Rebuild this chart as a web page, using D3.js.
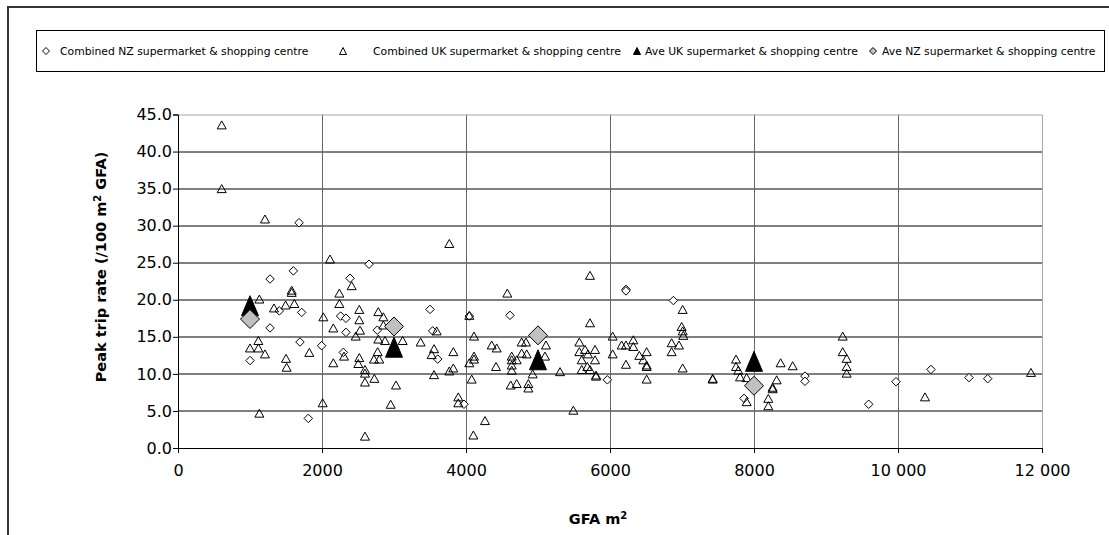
<!DOCTYPE html>
<html>
<head>
<meta charset="utf-8">
<script src="https://cdn.jsdelivr.net/npm/d3@7"></script>
<style>
  body { margin: 0; background: #fff; }
  svg { display: block; }
</style>
</head>
<body>
<div id="chart"></div>
<script>
// data (GFA m2, peak trip rate)
const nzPoints = [
  [1278,22.8],[1602,23.9],[1681,30.4],[2653,24.8],[1407,18.5],[1718,18.3],[1278,16.2],[1000,11.8],
  [1694,14.3],[1810,4.0],[1995,13.8],[2389,22.9],[2259,17.8],[2333,17.5],[2333,15.6],[2296,12.9],
  [2768,15.9],[3500,18.7],[3537,15.8],[3607,12.0],[3972,5.9],[4046,17.8],[4611,17.9],[6222,21.4],
  [6222,21.2],[6880,19.9],[5963,9.2],[7861,6.7],[8708,9.7],[8708,9.0],[9593,5.9],[9972,8.95],
  [10458,10.6],[10986,9.5],[11246,9.35]
];
const ukPoints = [
  [607,43.6],[607,35.0],[1208,30.9],[3768,27.6],[2111,25.5],
  [1579,21.3],[1579,21.0],[1130,20.1],[1333,18.9],[1495,19.3],[1616,19.5],[1116,14.5],[1000,13.5],
  [1116,13.5],[1208,12.7],[1500,12.1],[1509,10.9],[1824,12.9],[1130,4.7],
  [2019,17.7],[2009,6.1],[2241,20.9],[2241,19.5],[2412,21.9],[2157,16.2],[2468,15.1],[2518,18.7],
  [2518,17.3],[2528,15.9],[2306,12.4],[2157,11.5],[2518,12.2],[2504,11.4],[2597,10.6],[2597,10.1],
  [2597,8.9],[2727,9.4],[2597,1.6],
  [2782,18.4],[2852,17.7],[2852,16.6],[2782,14.7],[2875,14.5],[3120,14.5],[2773,13.0],[2722,12.0],
  [2796,12.0],[3028,8.5],[2954,5.9],
  [3370,14.3],[3593,15.8],[3556,13.4],[3523,12.6],[3824,13.0],[3556,9.9],[3768,10.4],[3824,10.8],
  [3893,6.9],[3893,6.1],
  [4046,17.9],[4111,15.1],[4046,11.5],[4111,12.4],[4111,12.0],[4079,9.3],[4102,1.75],[4264,3.7],
  [4357,13.9],[4426,13.5],[4417,11.0],
  [4574,20.9],[5722,23.3],[5722,16.9],[7009,18.7],[6995,16.4],[7009,15.8],[7018,15.2],[6856,14.2],
  [6958,13.9],[6856,13.0],[7009,10.8],
  [4635,12.4],[4635,11.9],[4635,11.2],[4635,10.5],[4621,8.5],[4704,8.7],[4866,8.7],[4866,8.1],[4926,10.0],
  [4773,14.3],[4833,14.3],[4773,12.8],[4843,12.7],[4704,11.9],
  [5111,13.9],[5097,12.4],[5306,10.3],[5491,5.1],
  [5574,14.3],[5574,13.0],[5607,11.9],[5607,10.6],[5653,13.3],[5694,12.7],[5792,13.3],[5792,11.9],
  [5685,11.0],[5722,10.6],[5806,9.85],[5806,9.7],
  [6037,15.1],[6037,12.7],[6162,13.9],[6222,13.9],[6324,14.6],[6324,13.7],[6222,11.3],
  [6407,12.5],[6509,13.0],[6463,11.9],[6509,11.2],[6509,11.0],[6509,9.3],
  [7426,9.4],[7426,9.3],
  [7750,12.0],[7750,11.0],[7782,10.5],[7806,9.6],[7898,9.5],[7898,6.25],[8199,6.7],[8199,5.7],
  [8259,8.2],[8259,8.0],[8315,9.2],[8370,11.5],[8537,11.1],
  [9232,15.1],[9232,13.0],[9287,12.1],[9287,11.0],[9287,10.1],[10375,6.9],[11847,10.2]
];
const aveUK = [[1000,19.2],[3000,13.6],[5000,11.9],[8000,11.7]];
const aveNZ = [[1000,17.4],[3000,16.4],[5000,15.2],[8000,8.4]];

const xTicks = [0,2000,4000,6000,8000,10000,12000];
const yTicks = [0,5,10,15,20,25,30,35,40,45];
const legendLabels = [
  'Combined NZ supermarket & shopping centre',
  'Combined UK supermarket & shopping centre',
  'Ave UK supermarket & shopping centre',
  'Ave NZ supermarket & shopping centre'
];

// layout
const W = 1109, H = 535;
const margin = {top: 114.5, right: 67, bottom: 87, left: 178};
const width = W - margin.left - margin.right;
const height = H - margin.top - margin.bottom;
const font = '"DejaVu Sans", Verdana, sans-serif';

const svg = d3.select('#chart').append('svg')
  .attr('width', W)
  .attr('height', H);

// outer chart frame (runs off the picture to the right and bottom)
svg.append('rect')
  .attr('x', 8).attr('y', 7)
  .attr('width', W + 20).attr('height', H + 20)
  .attr('fill', 'none').attr('stroke', '#333').attr('stroke-width', 2);

const g = svg.append('g')
  .attr('transform', 'translate(' + margin.left + ',' + margin.top + ')');

const x = d3.scaleLinear().domain([0, 12000]).range([0, width]);
const y = d3.scaleLinear().domain([0, 45]).range([height, 0]);

// marker paths
function tri(w, h) {
  return 'M0,' + (-h / 2) + 'L' + (w / 2) + ',' + (h / 2) + 'L' + (-w / 2) + ',' + (h / 2) + 'Z';
}
function dia(w, h) {
  return 'M0,' + (-h / 2) + 'L' + (w / 2) + ',0L0,' + (h / 2) + 'L' + (-w / 2) + ',0Z';
}

// gridlines
g.append('g').selectAll('line')
  .data(yTicks.filter(d => d > 0 && d < 45))
  .join('line')
  .attr('x1', 0).attr('x2', width)
  .attr('y1', d => Math.round(y(d)) + 0.5).attr('y2', d => Math.round(y(d)) + 0.5)
  .attr('stroke', '#000');

g.append('g').selectAll('line')
  .data(xTicks.filter(d => d > 0 && d < 12000))
  .join('line')
  .attr('x1', d => Math.round(x(d)) + 0.5).attr('x2', d => Math.round(x(d)) + 0.5)
  .attr('y1', 0).attr('y2', height)
  .attr('stroke', '#666');

// plot border top / right
g.append('path')
  .attr('d', 'M0,' + (Math.round(y(45)) + 0.5) + 'H' + (Math.round(width) + 0.5) + 'V' + height)
  .attr('fill', 'none').attr('stroke', '#a8a8a8');

// axes
const xAxis = d3.axisBottom(x).tickValues(xTicks).tickSize(5).tickPadding(12)
  .tickFormat(d => d >= 10000 ? d3.format(',')(d).replace(',', ' ') : d);
const yAxis = d3.axisLeft(y).tickValues(yTicks).tickSize(5).tickPadding(1)
  .tickFormat(d3.format('.1f'));

const xAxisGroup = g.append('g')
  .attr('class', 'x-axis')
  .attr('transform', 'translate(0,' + height + ')')
  .call(xAxis);
const yAxisGroup = g.append('g')
  .attr('class', 'y-axis')
  .call(yAxis);

[xAxisGroup, yAxisGroup].forEach(a => {
  a.select('.domain').attr('stroke', '#000');
  a.selectAll('.tick line').attr('stroke', '#000');
  a.selectAll('text')
    .attr('font-family', font)
    .attr('font-size', 16)
    .attr('fill', '#000');
});

// points
g.append('g').selectAll('path')
  .data(nzPoints)
  .join('path')
  .attr('transform', d => 'translate(' + x(d[0]) + ',' + y(d[1]) + ')')
  .attr('d', dia(8.5, 8.5))
  .attr('fill', '#fff').attr('stroke', '#000').attr('stroke-width', 1);

g.append('g').selectAll('path')
  .data(ukPoints)
  .join('path')
  .attr('transform', d => 'translate(' + x(d[0]) + ',' + y(d[1]) + ')')
  .attr('d', tri(9, 8))
  .attr('fill', 'none').attr('stroke', '#000').attr('stroke-width', 1);

g.append('g').selectAll('path')
  .data(aveUK)
  .join('path')
  .attr('transform', d => 'translate(' + x(d[0]) + ',' + y(d[1]) + ')')
  .attr('d', tri(17, 20))
  .attr('fill', '#000').attr('stroke', '#000');

g.append('g').selectAll('path')
  .data(aveNZ)
  .join('path')
  .attr('transform', d => 'translate(' + x(d[0]) + ',' + y(d[1]) + ')')
  .attr('d', dia(19, 19))
  .attr('fill', '#c0c0c0').attr('stroke', '#000');

// axis titles
const yTitle = svg.append('text')
  .attr('transform', 'translate(106,267) rotate(-90)')
  .attr('text-anchor', 'middle')
  .attr('font-family', font)
  .attr('font-weight', 'bold')
  .attr('font-size', 14.5);
yTitle.append('tspan').text('Peak trip rate (/100 m');
yTitle.append('tspan').attr('baseline-shift', 'super').attr('font-size', 10).text('2');
yTitle.append('tspan').text(' GFA)');

const xTitle = svg.append('text')
  .attr('x', 598).attr('y', 524)
  .attr('text-anchor', 'middle')
  .attr('font-family', font)
  .attr('font-weight', 'bold')
  .attr('font-size', 14.5);
xTitle.append('tspan').text('GFA m');
xTitle.append('tspan').attr('baseline-shift', 'super').attr('font-size', 10).text('2');

// legend
const legend = svg.append('g').attr('class', 'legend');
legend.append('rect')
  .attr('x', 36.5).attr('y', 30.5)
  .attr('width', 1068).attr('height', 41)
  .attr('fill', '#fff').attr('stroke', '#000');

const legendItems = [
  {mx: 46, tx: 60, path: dia(7, 7), fill: '#fff'},
  {mx: 343, tx: 373, path: tri(7, 7), fill: 'none'},
  {mx: 637, tx: 645, path: tri(7, 7), fill: '#000'},
  {mx: 873, tx: 882, path: dia(7, 7), fill: '#c0c0c0'}
];
legendItems.forEach((it, i) => {
  legend.append('path')
    .attr('transform', 'translate(' + it.mx + ',51)')
    .attr('d', it.path)
    .attr('fill', it.fill).attr('stroke', '#000');
  legend.append('text')
    .attr('x', it.tx).attr('y', 55)
    .attr('font-family', font)
    .attr('font-size', 10.8)
    .text(legendLabels[i]);
});
</script>
</body>
</html>
